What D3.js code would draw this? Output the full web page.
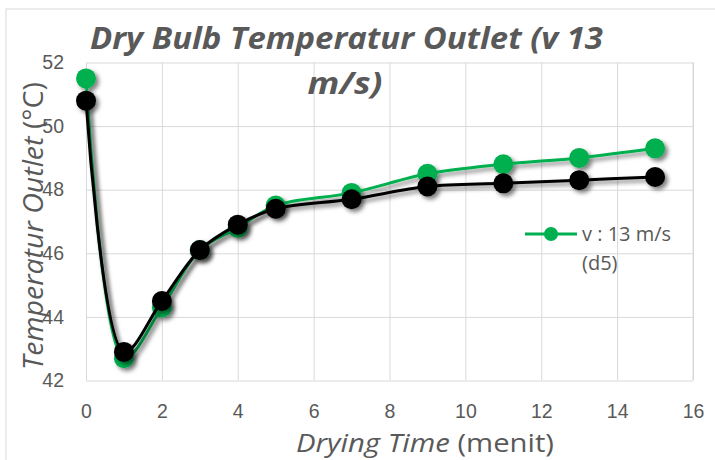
<!DOCTYPE html>
<html>
<head>
<meta charset="utf-8">
<script src="https://cdn.jsdelivr.net/npm/d3@7/dist/d3.min.js"></script>
<style>
	body { margin: 0; background: #fff; }
	svg { display: block; font-family: "Open Sans", sans-serif; }
	.tick text { fill: #595959; font-size: 19.5px; }
	.grid line, .grid path { stroke: #d9d9d9; }
</style>
</head>
<body>
<svg id="chartsvg" width="715" height="460"></svg>
<script>
//DATA
var dryingTime = [0, 1, 2, 3, 4, 5, 7, 9, 11, 13, 15];
var tempD5 = [51.5, 42.7, 44.3, 46.1, 46.8, 47.5, 47.9, 48.5, 48.8, 49.0, 49.3];
var tempOther = [50.8, 42.9, 44.5, 46.1, 46.9, 47.4, 47.7, 48.1, 48.2, 48.3, 48.4];
var xTicks = [0, 2, 4, 6, 8, 10, 12, 14, 16];
var yTicks = [42, 44, 46, 48, 50, 52];
var titleLines = ["Dry Bulb Temperatur Outlet (v 13", "m/s)"];
var legendLines = ["v : 13 m/s", "(d5)"];

(function () {
	//VARIABLE DECLARATION
	var svg, margin, x, y, series, line;
	//VARIABLE INSTANTIATION
	svg = d3.select("#chartsvg");
	margin = { left: 86, right: 693, top: 62.5, bottom: 380.5 };
	x = d3.scaleLinear().domain([0, 16]).range([margin.left, margin.right]);
	y = d3.scaleLinear().domain([42, 52]).range([margin.bottom, margin.top]);
	series = [
		{ name: "d5", color: "#00b050", values: tempD5 },
		{ name: "other", color: "#000000", values: tempOther }
	];
	line = d3.line()
		.x(function (d) { return x(d.t) })
		.y(function (d) { return y(d.v) })
		.curve(d3.curveCatmullRom.alpha(0.5));

	drawFrame();
	drawGrid();
	drawSeries();
	drawTitles();
	drawLegend();

	function drawFrame() {
		svg.append("rect")
			.attr("x", 6).attr("y", 9)
			.attr("width", 730).attr("height", 470)
			.attr("fill", "#fff")
			.attr("stroke", "#d9d9d9");

		var f = svg.append("defs").append("filter")
			.attr("id", "shadow")
			.attr("filterUnits", "userSpaceOnUse")
			.attr("x", 0).attr("y", 0).attr("width", 715).attr("height", 460);
		f.append("feDropShadow")
			.attr("dx", 3).attr("dy", 3)
			.attr("stdDeviation", 2.2)
			.attr("flood-color", "#000")
			.attr("flood-opacity", 0.5);
	}
	function drawGrid() {
		var h = margin.bottom - margin.top, w = margin.right - margin.left;
		// vertical grid + x labels
		svg.append("g").attr("class", "grid")
			.attr("transform", "translate(0," + margin.bottom + ")")
			.call(d3.axisBottom(x).tickValues(xTicks).tickSize(-h).tickSizeOuter(0).tickPadding(0))
			.call(function (g) {
				g.selectAll(".tick text").attr("y", 24).attr("dy", "0.71em");
			});
		// horizontal grid + y labels
		svg.append("g").attr("class", "grid")
			.attr("transform", "translate(" + margin.left + ",0)")
			.call(d3.axisLeft(y).tickValues(yTicks).tickSize(-w).tickSizeOuter(0).tickPadding(22));
		svg.selectAll(".grid .domain").remove();
		svg.selectAll(".grid .tick line").attr("stroke", "#d9d9d9");
		svg.append("line")
			.attr("x1", margin.right).attr("x2", margin.right)
			.attr("y1", margin.top).attr("y2", margin.bottom)
			.attr("stroke", "#d9d9d9");
	}
	function drawSeries() {
		series.forEach(function (s) {
			var pts = dryingTime.map(function (t, i) { return { t: t, v: s.values[i] } });
			var g = svg.append("g").attr("class", "series-" + s.name).attr("filter", "url(#shadow)");
			g.append("path")
				.datum(pts)
				.attr("d", line)
				.attr("fill", "none")
				.attr("stroke", s.color)
				.attr("stroke-width", 3);
			g.selectAll("circle")
				.data(pts).enter()
				.append("circle")
				.attr("cx", function (d) { return x(d.t) })
				.attr("cy", function (d) { return y(d.v) })
				.attr("r", 10)
				.attr("fill", s.color);
		});
	}
	function drawTitles() {
		svg.append("text")
			.text(titleLines[0])
			.attr("x", 346.5).attr("y", 49)
			.attr("text-anchor", "middle")
			.attr("textLength", 513).attr("lengthAdjust", "spacingAndGlyphs")
			.attr("font-size", 31).attr("font-weight", "bold").attr("font-style", "italic")
			.attr("fill", "#595959");
		svg.append("text")
			.text(titleLines[1])
			.attr("x", 345).attr("y", 94)
			.attr("text-anchor", "middle")
			.attr("textLength", 75).attr("lengthAdjust", "spacingAndGlyphs")
			.attr("font-size", 31).attr("font-weight", "bold").attr("font-style", "italic")
			.attr("fill", "#595959");

		var yt = svg.append("text")
			.attr("transform", "translate(43,226) rotate(-90)")
			.attr("text-anchor", "middle")
			.attr("textLength", 288).attr("lengthAdjust", "spacingAndGlyphs")
			.attr("font-size", 27).attr("fill", "#595959");
		yt.append("tspan").attr("font-style", "italic").text("Temperatur Outlet ");
		yt.append("tspan").text("(°C)");

		var xt = svg.append("text")
			.attr("x", 425).attr("y", 452)
			.attr("text-anchor", "middle")
			.attr("textLength", 258).attr("lengthAdjust", "spacingAndGlyphs")
			.attr("font-size", 25).attr("fill", "#595959");
		xt.append("tspan").attr("font-style", "italic").text("Drying Time");
		xt.append("tspan").text(" (menit)");
	}
	function drawLegend() {
		var lg = svg.append("g").attr("class", "legend");
		lg.append("line")
			.attr("x1", 525).attr("x2", 577)
			.attr("y1", 234).attr("y2", 234)
			.attr("stroke", series[0].color).attr("stroke-width", 3);
		lg.append("circle")
			.attr("cx", 551).attr("cy", 234).attr("r", 7)
			.attr("fill", series[0].color);
		lg.selectAll("text")
			.data(legendLines).enter()
			.append("text")
			.text(function (d) { return d })
			.attr("x", 582)
			.attr("y", function (d, i) { return 241 + 29 * i })
			.attr("font-size", 20)
			.attr("fill", "#595959");
	}
})();
</script>
</body>
</html>
